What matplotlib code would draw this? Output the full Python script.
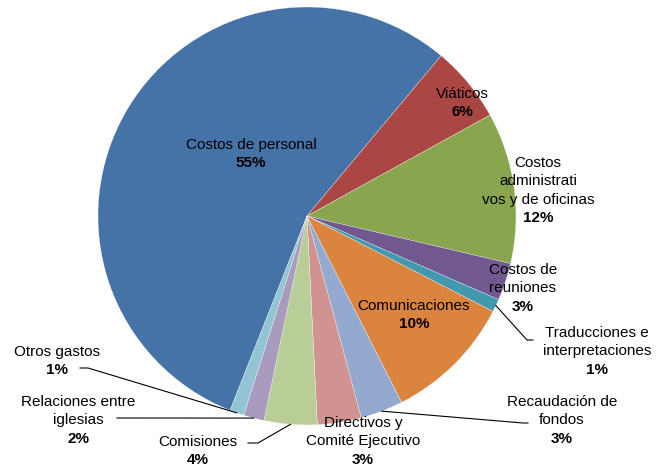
import numpy as np
import matplotlib.pyplot as plt

plt.rcParams['font.family'] = ['Liberation Sans', 'DejaVu Sans']

# data (share of total, %)
names = ["Costos de personal", "Viáticos", "Costos\nadministrati\nvos y de oficinas",
         "Costos de\nreuniones", "Traducciones e\ninterpretaciones", "Comunicaciones",
         "Recaudación de\nfondos", "Directivos y\nComité Ejecutivo", "Comisiones",
         "Relaciones entre\niglesias", "Otros gastos"]
shares = [55.2, 5.9, 11.7, 2.9, 1.0, 10.0, 3.3, 3.4, 4.1, 1.6, 1.1]
colors = ["#4572A7", "#AA4643", "#89A54E", "#71588F", "#4198AF", "#DB843D",
          "#93A9CF", "#D19392", "#B9CD96", "#A99BBD", "#92C4D4"]

# layout in pixels (y measured from top)
W, H = 668, 467
cx, cy, R = 307, 216, 209
label_pos = [(251, 145), (462, 94), (538, 163), (523, 270), (597, 333), (414, 306),
             (562, 402), (363, 423), (198, 442), (78, 402), (57, 352)]
# leader lines: index -> points near the label (pixels), slice end is computed
leaders = {4: [(533, 340), (527, 340)],
           6: [(528, 423), (523, 423)],
           8: [(248, 443), (258, 443)],
           9: [(117, 418)],
           10: [(80, 368), (88, 368)]}
line_h = 18.3

fig = plt.figure(figsize=(W / 100, H / 100), dpi=100)
ax = fig.add_axes([0, 0, 1, 1])

start = 90 - 201.6
wedges, _ = ax.pie(shares, colors=colors, startangle=start, counterclock=False,
                   center=(cx, H - cy), radius=R, frame=True,
                   wedgeprops=dict(edgecolor='white', linewidth=0.2))
ax.set_xlim(0, W)
ax.set_ylim(0, H)
ax.axis('off')

total = sum(shares)
fs = 11
for i, (name, s) in enumerate(zip(names, shares)):
    x, y0 = label_pos[i]
    lines = name.split("\n")
    for j, ln in enumerate(lines):
        ax.text(x, H - (y0 + j * line_h), ln, ha='center', va='center', fontsize=fs, color='black')
    ax.text(x, H - (y0 + len(lines) * line_h), "%d%%" % round(s / total * 100),
            ha='center', va='center', fontsize=fs, fontweight='bold', color='black')

for i, pts in leaders.items():
    w = wedges[i]
    mid = np.deg2rad((w.theta1 + w.theta2) / 2)
    ex, ey = cx + R * np.cos(mid), (H - cy) + R * np.sin(mid)
    xs = [p[0] for p in pts] + [ex]
    ys = [H - p[1] for p in pts] + [ey]
    ax.plot(xs, ys, color='black', linewidth=0.8)

fig.savefig("out.png", dpi=100)
